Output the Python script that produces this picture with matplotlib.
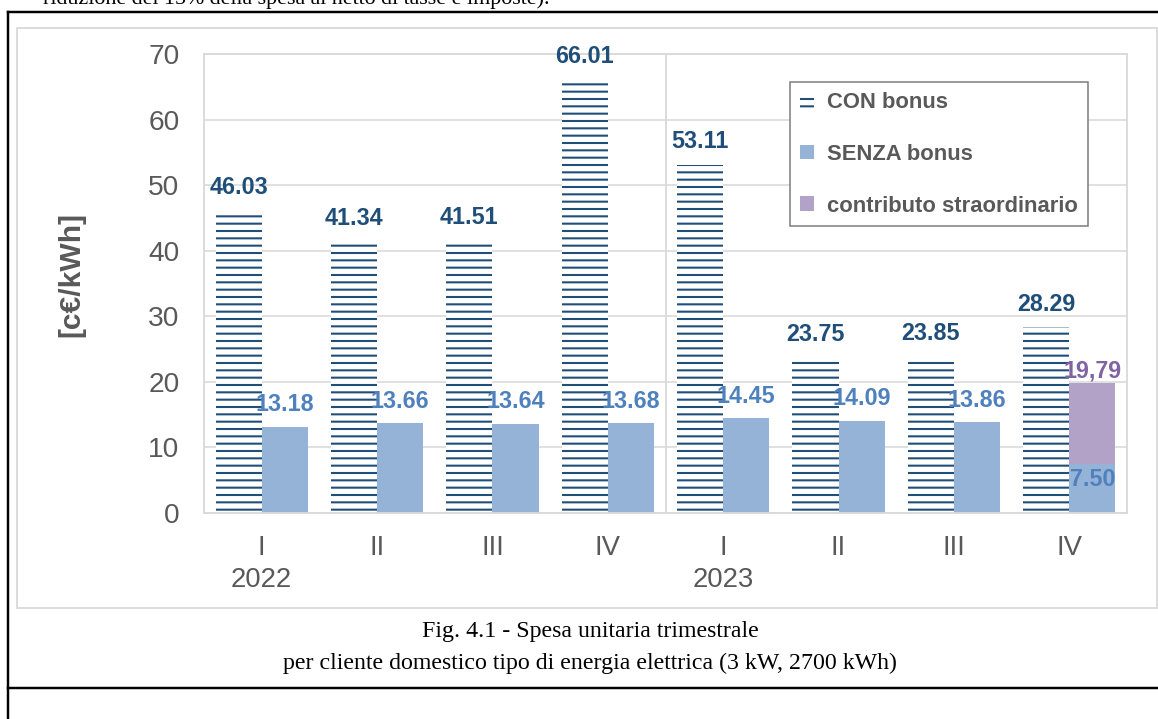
import matplotlib
matplotlib.use("Agg")
import matplotlib.pyplot as plt
from matplotlib.patches import Patch, Rectangle
from matplotlib.lines import Line2D

# dati (c€/kWh) per trimestre
quarters = ["I", "II", "III", "IV", "I", "II", "III", "IV"]
years = ["2022", "", "", "", "2023", "", "", ""]
con_bonus = [46.03, 41.34, 41.51, 66.01, 53.11, 23.75, 23.85, 28.29]
senza_bonus = [13.18, 13.66, 13.64, 13.68, 14.45, 14.09, 13.86, 7.50]
contributo = [0, 0, 0, 0, 0, 0, 0, 12.29]
contributo_label = "19,79"

NAVY = "#1F4E79"
BLUE = "#95B3D7"
BLUE_TXT = "#4F81BD"
PURPLE = "#B3A2C7"
PURPLE_TXT = "#8064A2"
GRAY_TXT = "#595959"
GRID = "#D9D9D9"

W, H, DPI = 1158, 719, 88
plt.rcParams["font.family"] = ["Liberation Sans", "DejaVu Sans"]
plt.rcParams["hatch.linewidth"] = 1.7


def fx(px):
    return px / W


def fy(py):
    return 1 - py / H


fig = plt.figure(figsize=(W / DPI, H / DPI), dpi=DPI, facecolor="white")
ax = fig.add_axes([fx(204), fy(513), fx(1127) - fx(204), fy(54) - fy(513)])

x = list(range(len(quarters)))
bw = 0.4
x_con = [i - bw / 2 for i in x]
x_sen = [i + bw / 2 for i in x]

ax.bar(x_con, con_bonus, width=bw, facecolor="white", edgecolor=NAVY,
       hatch="--", linewidth=0, zorder=2)
ax.bar(x_sen, senza_bonus, width=bw, color=BLUE, linewidth=0, zorder=2)
ax.bar(x_sen, contributo, width=bw, bottom=senza_bonus, color=PURPLE,
       linewidth=0, zorder=2)

# etichette valori
for xi, v in zip(x_con, con_bonus):
    ax.annotate(f"{v:.2f}", (xi, v), xytext=(0, 19), textcoords="offset points",
                ha="center", va="center", fontsize=19, fontweight="bold", color=NAVY)
for xi, v, c in zip(x_sen, senza_bonus, contributo):
    if c > 0:
        ax.annotate(f"{v:.2f}", (xi, v), xytext=(0, -13), textcoords="offset points",
                    ha="center", va="center", fontsize=19, fontweight="bold", color=BLUE_TXT)
        ax.annotate(contributo_label, (xi, v + c), xytext=(0, 10), textcoords="offset points",
                    ha="center", va="center", fontsize=19, fontweight="bold", color=PURPLE_TXT)
    else:
        ax.annotate(f"{v:.2f}", (xi, v), xytext=(0, 18), textcoords="offset points",
                    ha="center", va="center", fontsize=19, fontweight="bold", color=BLUE_TXT)

ax.set_xlim(-0.5, len(quarters) - 0.5)
ax.set_ylim(0, 70)
ax.set_yticks(range(0, 71, 10))
ax.set_xticks(x)
ax.set_xticklabels([q + ("\n" + y if y else "") for q, y in zip(quarters, years)],
                   linespacing=1.3)
ax.tick_params(axis="both", length=0, labelcolor=GRAY_TXT, labelsize=23)
ax.tick_params(axis="x", labelsize=22.5, pad=18)
ax.tick_params(axis="y", pad=20)
ax.yaxis.grid(True, color=GRID, linewidth=1.3)
ax.axvline(3.5, color=GRID, linewidth=1.5, zorder=1)
ax.set_axisbelow(True)
for s in ax.spines.values():
    s.set_color(GRID)
    s.set_linewidth(1.5)

ax.set_ylabel("[c€/kWh]", fontsize=24.5, fontweight="bold", color=GRAY_TXT)
ax.yaxis.set_label_coords((85 - 204) / 923, 0.52)

handles = [
    Patch(facecolor="white", edgecolor=NAVY, hatch="--", linewidth=0),
    Patch(facecolor=BLUE, linewidth=0),
    Patch(facecolor=PURPLE, linewidth=0),
]
leg = ax.legend(handles, ["CON bonus", "SENZA bonus", "contributo straordinario"],
                loc="upper left", bbox_to_anchor=((790 - 204) / 923, (513 - 82) / 459),
                borderaxespad=0, frameon=True, fancybox=False, framealpha=1,
                edgecolor="#808080", prop={"weight": "bold", "size": 18},
                handlelength=0.65, handleheight=0.65, handletextpad=0.6,
                labelspacing=1.4, borderpad=0.45)
leg.get_frame().set_linewidth(1.3)
for t in leg.get_texts():
    t.set_color(GRAY_TXT)

# cornice area grafico e bordi documento
fig.add_artist(Rectangle((fx(17), fy(608)), fx(1157) - fx(17), fy(28) - fy(608),
                         transform=fig.transFigure, fill=False, edgecolor=GRID, linewidth=1.5))
for xs, ys in [((8, 8), (12, 719)), ((8, 1158), (12, 12)), ((8, 1158), (688, 688))]:
    fig.add_artist(Line2D([fx(v) for v in xs], [fy(v) for v in ys],
                          transform=fig.transFigure, color="black", linewidth=2))

serif = ["Liberation Serif", "DejaVu Serif"]
fig.text(fx(43), fy(4), "riduzione del 15% della spesa al netto di tasse e imposte).",
         family=serif, fontsize=18, va="baseline", ha="left")
fig.text(fx(590), fy(632), "Fig. 4.1 - Spesa unitaria trimestrale",
         family=serif, fontsize=19.5, va="center", ha="center")
fig.text(fx(590), fy(663), "per cliente domestico tipo di energia elettrica (3 kW, 2700 kWh)",
         family=serif, fontsize=19.5, va="center", ha="center")

fig.savefig("out.png", dpi=DPI, facecolor="white")
